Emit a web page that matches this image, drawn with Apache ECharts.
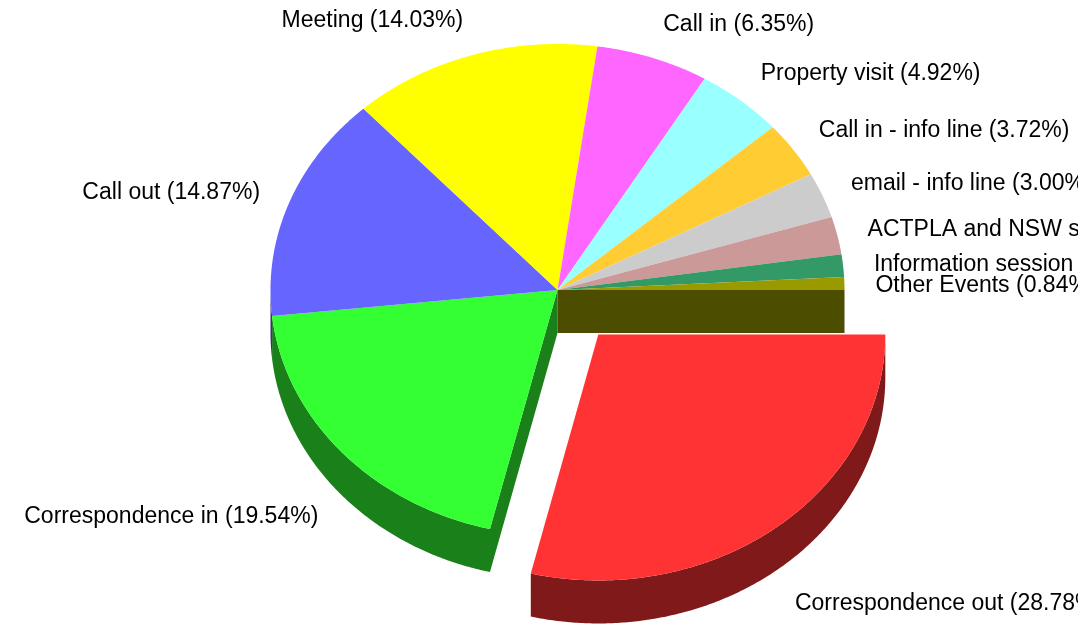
<!DOCTYPE html>
<html>
<head>
<meta charset="utf-8">
<script src="https://cdn.jsdelivr.net/npm/echarts@6/dist/echarts.min.js"></script>
<style>
  html, body { margin: 0; padding: 0; background: #ffffff; }
  #chart { width: 1078px; height: 626px; }
</style>
</head>
<body>
<div id="chart"></div>
<script>
// Contact types and their share of all contacts (percent)
const categories = [
  'Correspondence out', 'Correspondence in', 'Call out', 'Meeting', 'Call in',
  'Property visit', 'Call in - info line', 'email - info line',
  'ACTPLA and NSW staff', 'Information session', 'Other Events'
];
const shares = [28.78, 19.54, 14.87, 14.03, 6.35, 4.92, 3.72, 3.00, 2.47, 1.48, 0.84];
const explodedIndex = 0;

// Slice colours (top faces); walls use a darker shade
const palette = ['#ff3333', '#33ff33', '#6666ff', '#ffff00', '#ff66ff', '#99ffff',
                 '#ffcc33', '#cccccc', '#cc9999', '#339966', '#999900'];

// Tilted pie geometry
const PIE = { cx: 557.5, cy: 290, rx: 287, ry: 246, depth: 43, explode: 0.23 };
const LABEL = { rx: 318, ryUp: 285, ryDown: 339, dy: 3 };

function shade(hex, f) {
  const n = parseInt(hex.slice(1), 16);
  const r = Math.round(((n >> 16) & 255) * f);
  const g = Math.round(((n >> 8) & 255) * f);
  const b = Math.round((n & 255) * f);
  return 'rgb(' + r + ',' + g + ',' + b + ')';
}

const total = shares.reduce((a, b) => a + b, 0);

function renderItem(params, api) {
  const i = params.dataIndex;
  const n = shares.length;
  let before = 0;
  for (let k = 0; k < i; k++) before += shares[k];
  const value = api.value(0);
  const a0 = before / total * 2 * Math.PI;
  const a1 = (before + value) / total * 2 * Math.PI;
  const mid = (a0 + a1) / 2;
  const exploded = i === explodedIndex;
  const ox = PIE.cx + (exploded ? PIE.explode * PIE.rx * Math.cos(mid) : 0);
  const oy = PIE.cy + (exploded ? PIE.explode * PIE.ry * Math.sin(mid) : 0);

  const pt = (a, dz) => [ox + PIE.rx * Math.cos(a), oy + PIE.ry * Math.sin(a) + (dz || 0)];
  const arc = (from, to, dz) => {
    const steps = Math.max(2, Math.ceil((to - from) / (Math.PI / 360)));
    const pts = [];
    for (let s = 0; s <= steps; s++) pts.push(pt(from + (to - from) * s / steps, dz));
    return pts;
  };

  const topColor = palette[i % palette.length];
  const sideColor = shade(topColor, 0.5);
  const zBase = exploded ? 10 : 0;
  const children = [];

  // outer wall on the front half of the rim
  const w0 = Math.max(a0, 0), w1 = Math.min(a1, Math.PI);
  if (w1 > w0) {
    children.push({
      type: 'polygon', z2: zBase + 1,
      shape: { points: arc(w0, w1, 0).concat(arc(w0, w1, PIE.depth).reverse()) },
      style: { fill: sideColor }
    });
  }

  // radial cut faces exposed by the exploded slice
  const face = a => [[ox, oy], pt(a), pt(a, PIE.depth), [ox, oy + PIE.depth]];
  const prevExploded = ((i - 1 + n) % n) === explodedIndex;
  const nextExploded = ((i + 1) % n) === explodedIndex;
  if ((exploded || prevExploded) && Math.cos(a0) < 0) {
    children.push({ type: 'polygon', z2: zBase + 2, shape: { points: face(a0) }, style: { fill: sideColor } });
  }
  if ((exploded || nextExploded) && Math.cos(a1) > 0) {
    children.push({ type: 'polygon', z2: zBase + 2, shape: { points: face(a1) }, style: { fill: sideColor } });
  }

  // top face
  children.push({
    type: 'polygon', z2: zBase + 3,
    shape: { points: [[ox, oy]].concat(arc(a0, a1, 0)) },
    style: { fill: topColor }
  });

  // label
  const s = Math.sin(mid), c = Math.cos(mid);
  const lx = ox + LABEL.rx * c;
  const ly = oy + LABEL.dy + (s < 0 ? LABEL.ryUp : LABEL.ryDown) * s;
  const align = c < 0 ? 'right' : 'left';
  children.push({
    type: 'text', z2: 30,
    style: {
      text: categories[i] + ' (' + (value / total * 100).toFixed(2) + '%)',
      x: lx, y: ly,
      fill: '#000000',
      font: '23px "Liberation Sans", Arial, sans-serif',
      align: align, verticalAlign: 'middle',
      textAlign: align, textVerticalAlign: 'middle'
    }
  });

  return { type: 'group', children: children };
}

const chart = echarts.init(document.getElementById('chart'), null, { renderer: 'canvas' });
chart.setOption({
  backgroundColor: '#ffffff',
  animation: false,
  series: [{
    type: 'custom',
    coordinateSystem: 'none',
    silent: true,
    renderItem: renderItem,
    data: shares.map(v => [v])
  }]
});
</script>
</body>
</html>
